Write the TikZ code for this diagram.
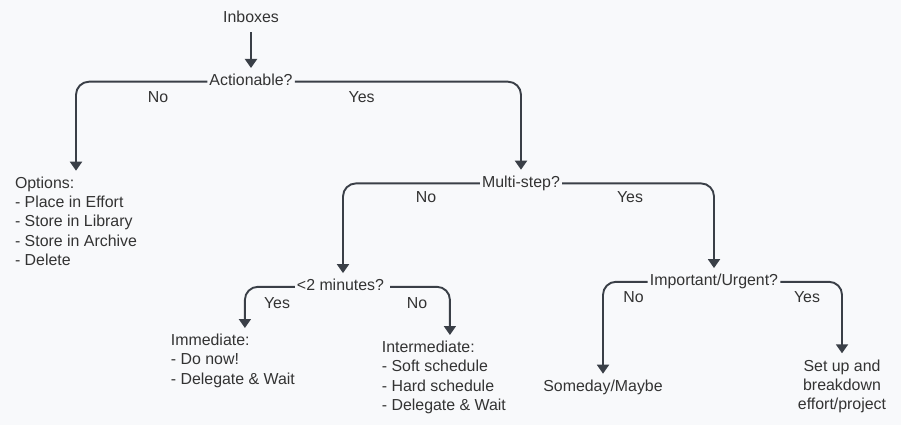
\documentclass[tikz,border=0pt]{standalone}
\usepackage{fontspec}
\setmainfont{Liberation Sans}
\usetikzlibrary{arrows.meta}
\definecolor{bgc}{HTML}{F8F9FB}
\definecolor{linec}{HTML}{3A3F47}
\definecolor{txtc}{HTML}{333333}
\tikzset{
  lbl/.style={inner xsep=2pt, inner ysep=6pt, text height=11.5pt, text depth=3.5pt, text=txtc},
  multi/.style={inner xsep=2pt, inner ysep=6pt, align=left, text=txtc},
  multic/.style={inner xsep=2pt, inner ysep=6pt, align=center, text=txtc},
  yn/.style={inner sep=0pt, text height=11.4pt, text depth=0pt, text=txtc},
  conn/.style={draw=linec, line width=1.9pt, rounded corners=13pt, -{Triangle[width=12pt,length=9pt]}},
}
\begin{document}
\begin{tikzpicture}[x=1pt,y=-1pt,font=\fontsize{15.9}{19.2}\selectfont]
\fill[bgc] (0,0) rectangle (901,425);
\useasboundingbox (0,0) rectangle (901,425);

\node[lbl] (inbox) at (251,18.4) {Inboxes};
\node[lbl] (act) at (251,81.7) {Actionable?};
\node[multi,anchor=north] (opt) at (76,170.7) {Options:\\- Place in Effort\\- Store in Library\\- Store in Archive\\- Delete};
\node[lbl] (ms) at (521,183.4) {Multi-step?};
\node[lbl] (two) at (340.5,286.8) {<2 minutes?};
\node[lbl] (imp) at (714,281.8) {Important/Urgent?};
\node[multi,anchor=north west] (imm) at (168.7,328) {Immediate:\\- Do now!\\- Delegate \& Wait};
\node[multi,anchor=north west] (inter) at (379.7,335) {Intermediate:\\- Soft schedule\\- Hard schedule\\- Delegate \& Wait};
\node[lbl] (some) at (603,387.4) {Someday/Maybe};
\node[multic,anchor=north] (setup) at (842,353.3) {Set up and\\breakdown\\effort/project};

\node[yn] (l1) at (158,96.7) {No};
\node[yn] (l2) at (361.6,96.7) {Yes};
\node[yn] (l3) at (426,196.7) {No};
\node[yn] (l4) at (630,196.7) {Yes};
\node[yn] (l5) at (277,303) {Yes};
\node[yn] (l6) at (417,303) {No};
\node[yn] (l7) at (633.5,296.7) {No};
\node[yn] (l8) at (807,296.7) {Yes};

\draw[conn] (inbox) -- (act);
\draw[conn] (act.west) -| (opt.north);
\draw[conn] (act.east) -| (ms.north);
\draw[conn] (ms.west) -| ([xshift=2.5pt]two.north);
\draw[conn] (ms.east) -| (imp.north);
\draw[conn] (two.west) -| ([xshift=12pt]imm.north);
\draw[conn] ([xshift=4pt]two.east) -| ([xshift=6pt]inter.north);
\draw[conn] (imp.west) -| (some.north);
\draw[conn] (imp.east) -| (setup.north);
\end{tikzpicture}
\end{document}
